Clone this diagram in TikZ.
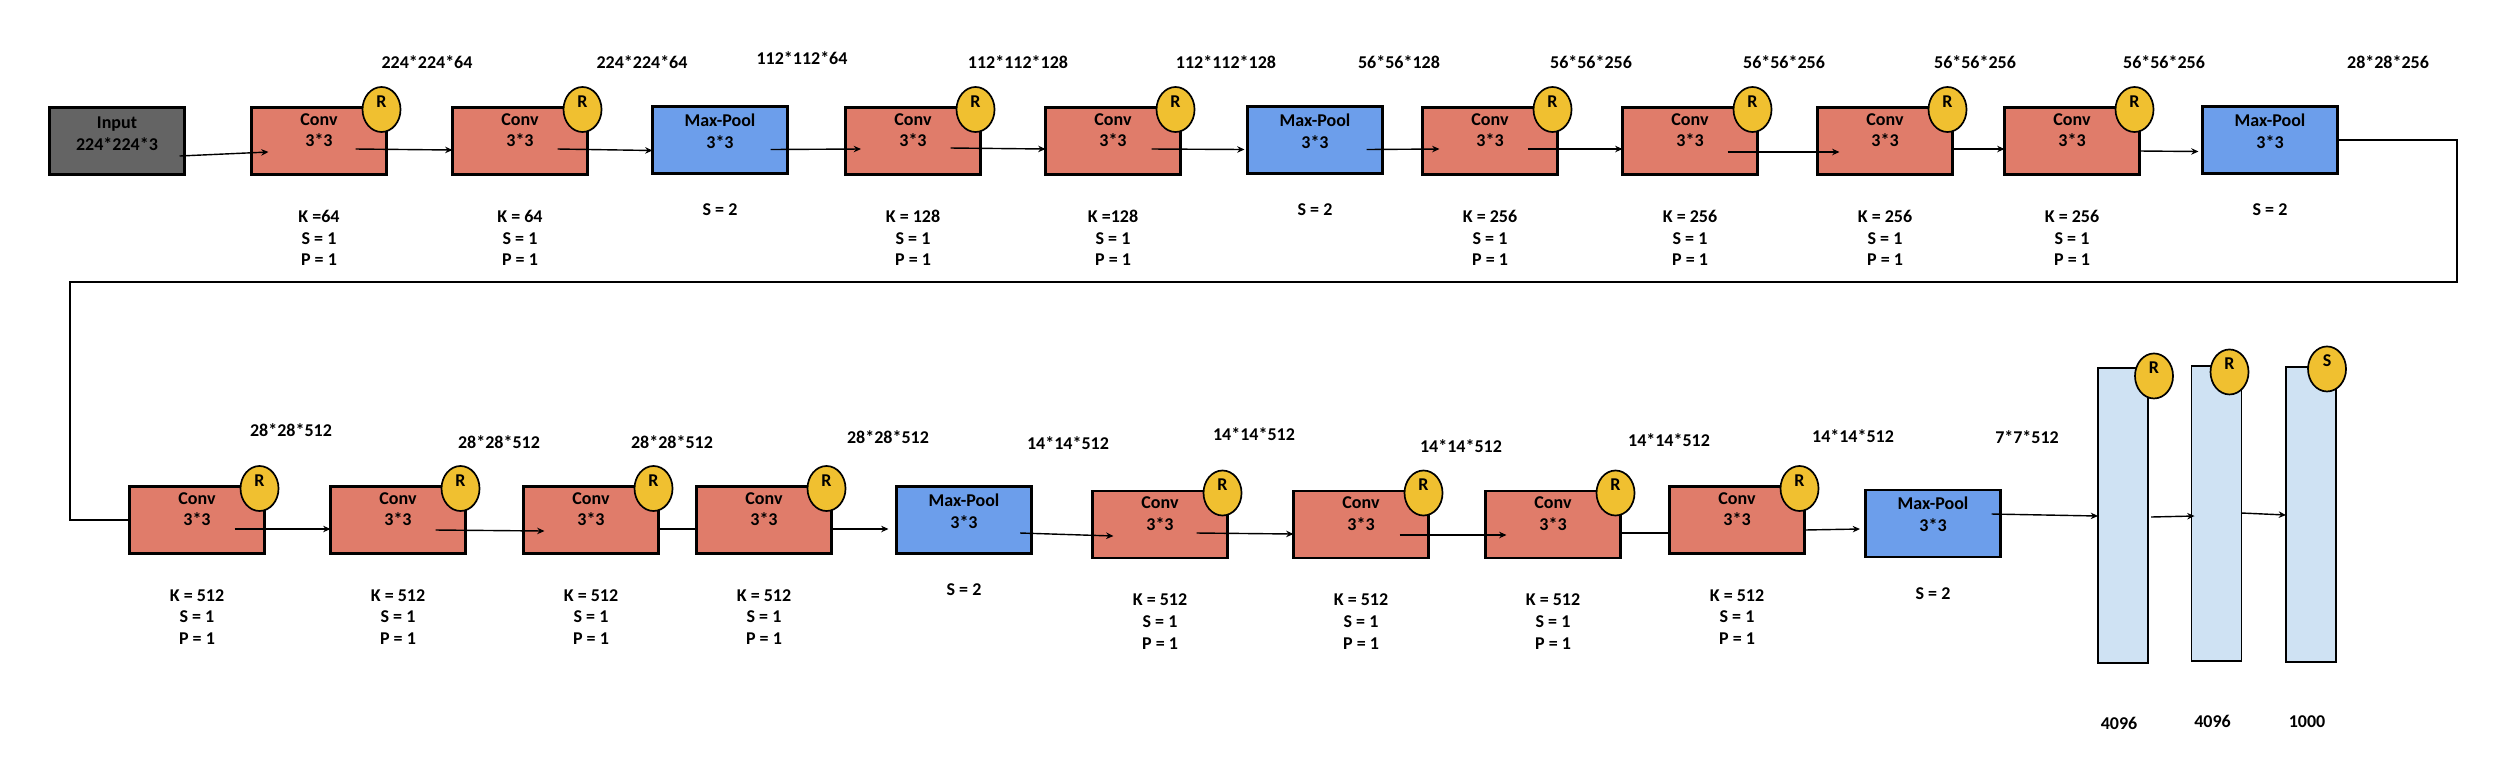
\documentclass[tikz,border=0pt]{standalone}
\usepackage{fontspec}
\setmainfont{Carlito}
\usetikzlibrary{positioning}
\usetikzlibrary{shapes.geometric,arrows.meta}
\definecolor{convred}{RGB}{224,124,106}
\definecolor{poolblue}{RGB}{108,158,235}
\definecolor{inpgray}{RGB}{100,100,100}
\definecolor{relugold}{RGB}{240,192,48}
\definecolor{fcblue}{RGB}{207,226,243}
\newcommand{\upx}{0.0125cm}

\begin{document}
\begin{tikzpicture}[x=0.0125cm,y=-0.0125cm,>={Stealth[length=2.6pt,width=2.3pt]},
		every node/.style={font=\bfseries\fontsize{6.4}{7.7}\selectfont},
		box/.style={draw,line width=1pt,minimum width=1.6875cm,minimum height=0.8375cm,inner sep=0pt,outer sep=0pt},
		conv/.style={box,fill=convred},
		pool/.style={box,fill=poolblue},
		fc/.style={draw,line width=0.6pt,fill=fcblue,minimum width=0.625cm,minimum height=3.6875cm,inner sep=0pt,outer sep=0pt},
		relu/.style={ellipse,draw,line width=0.6pt,fill=relugold,minimum width=0.475cm,minimum height=0.5625cm,inner sep=0pt,text height=4.5pt,text depth=6pt},
		txt/.style={align=center,inner sep=0pt},
		flow/.style={->,line width=0.5pt},
		link/.style={line width=0.5pt}]
		\path[use as bounding box,fill=white] (0,0) rectangle (2500,772);
		% first row
		\node[box,fill=inpgray] (inp) at (117,141) {};
		\foreach \n/\x in {c1/319,c2/520,c3/913,c4/1113,c5/1490,c6/1690,c7/1885,c8/2072}
			\node[conv] (\n) at (\x,141) {};
		\foreach \n/\x in {p1/720,p2/1315,p3/2270}
			\node[pool] (\n) at (\x,140) {};
		% second row
		\foreach \n/\x/\y in {c9/197/520,c10/398/520,c11/591/520,c12/764/520,c13/1160/524.5,c14/1361/524.5,c15/1553/524.5,c16/1737/520}
			\node[conv] (\n) at (\x,\y) {};
		\foreach \n/\x/\y in {p4/964/520,p5/1933/523.5}
			\node[pool] (\n) at (\x,\y) {};
		\foreach \n/\x/\y in {fc1/2123/515.5,fc2/2216.5/513.5,fc3/2311/514.5}
			\node[fc] (\n) at (\x,\y) {};
		% texts in the boxes
		\node[txt] (tinp) at ([yshift=7*\upx]inp.center) {Input\\224*224*3};
		\foreach \n in {c1,c2,c3,c4,c5,c6,c7,c8,c9,c10,c11,c12,c13,c14,c15,c16}
			\node[txt] (t\n) at ([yshift=11*\upx]\n.center) {Conv\\3*3};
		\foreach \n in {p1,p2,p3,p4,p5}
			\node[txt] (t\n) at ([yshift=9*\upx]\n.center) {Max-Pool\\3*3};
		% activations
		\foreach \n in {c1,c2,c3,c4,c5,c6,c7,c8,c9,c10,c11,c12,c13,c14,c15,c16}
			\node[relu] (r\n) at ([xshift=-5*\upx,yshift=-2*\upx]\n.north east) {R};
		\node[relu] (rfc1) at ([xshift=6*\upx,yshift=-8*\upx]fc1.north east) {R};
		\node[relu] (rfc2) at ([xshift=-12*\upx,yshift=-6*\upx]fc2.north east) {R};
		\node[relu] (sfc3) at ([xshift=-9*\upx,yshift=-2*\upx]fc3.north east) {S};
		% sizes of the outputs
		\foreach \t/\x/\y [count=\i] in {224*224*64/427/62,224*224*64/642/62,112*112*64/802/58,112*112*128/1018/62,112*112*128/1226/62,56*56*128/1399/62,56*56*256/1591/62,56*56*256/1784/62,56*56*256/1975/62,56*56*256/2164/62,28*28*256/2388/62,28*28*512/291/430,28*28*512/499/442,28*28*512/672/442,28*28*512/888/437,14*14*512/1068/443,14*14*512/1254/434,14*14*512/1461/446,14*14*512/1669/440,14*14*512/1853/436,7*7*512/2027/437}
			\node[txt] (d\i) at (\x,\y) {\t};
		% kernels, strides, padding
		\foreach \n/\k in {c1/{K =64},c2/{K = 64},c3/{K = 128},c4/{K =128},c5/{K = 256},c6/{K = 256},c7/{K = 256},c8/{K = 256},c9/{K = 512},c10/{K = 512},c11/{K = 512},c12/{K = 512},c13/{K = 512},c14/{K = 512},c15/{K = 512},c16/{K = 512}}
			\node[txt] (k\n) at ([yshift=-63.5*\upx]\n.south) {\k\\S = 1\\P = 1};
		\foreach \n in {p1,p2,p3,p4,p5}
			\node[txt] (s\n) at ([yshift=-36.5*\upx]\n.south) {S = 2};
		\foreach \n/\v in {fc1/4096,fc2/4096,fc3/1000}
			\node[txt] (v\n) at ([xshift=-4*\upx,yshift=-60*\upx]\n.south) {\v};
		% connectors
		\foreach \a/\b/\sx/\sy/\ex/\ey in {inp/c1/-5/-15/17/-11,c1/c2/-31/-8/0/-9,c2/p1/-30/-8/0/-10.5,p1/c3/-17/-9.5/15.5/-8,c3/c4/-30/-7/0/-8,c4/p2/-29/-8/-3/-9.5,p2/c5/-16/-9.5/17/-8,c5/c6/-30/-8/0/-8,c6/c7/-30/-11/22/-11,c7/c8/0/-8/0/-8,c8/p3/0/-10/-4/-11.5,c9/c10/-30/-9/0/-9,c10/c11/-30/-10/21/-11,c12/p4/0/-9/-8/-9,p4/c13/-11.5/-13/21/-11.5,c13/c14/-31/-8.5/0/-9.5,c14/c15/-29/-10.5/21/-10.5,c16/p5/0/-10/-5.5/-5.5,p5/fc1/-9/9.5/0/-0.5,fc1/fc2/3/-1.5/3/-2.5,fc2/fc3/0/0.5/0/-0.5}
			\draw[flow] ([xshift=\sx*\upx,yshift=\sy*\upx]\a.east) -- ([xshift=\ex*\upx,yshift=\ey*\upx]\b.west);
		\draw[link] ([yshift=-9*\upx]c11.east) -- ([yshift=-9*\upx]c12.west);
		\draw[link] ([yshift=-8.5*\upx]c15.east) -- ([yshift=-13*\upx]c16.west);
		\coordinate (wr) at (2457,282);
		\coordinate (wl) at (70,282);
		\draw[link] (p3.east) -| (wr) -- (wl) |- (c9.west);
	\end{tikzpicture}
\end{document}
